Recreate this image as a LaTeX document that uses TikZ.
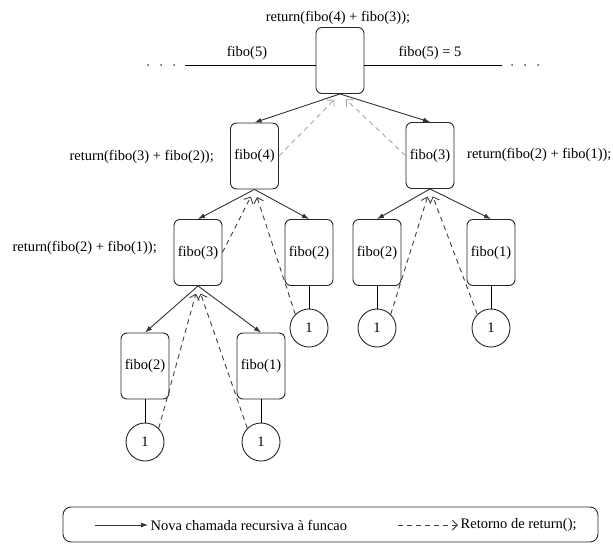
\documentclass[tikz,border=0pt]{standalone}
\usepackage{fontspec}
\setmainfont{Liberation Serif}
\usetikzlibrary{arrows.meta}

\begin{document}
\begin{tikzpicture}[x = 1pt, y = -1pt,
        font = \fontsize{14.5}{17}\selectfont,
        box/.style = {draw = black!85, rounded corners = 6pt, minimum width = 48pt, minimum height = 66pt, inner sep = 1pt, line width = 0.9pt},
        base/.style = {draw = black!85, circle, minimum size = 38pt, inner sep = 0pt, line width = 0.9pt},
        call/.style = {-{Latex[length = 7pt, width = 5pt]}, draw = black!80, line width = 0.9pt},
        ret/.style = {-{Straight Barb[length = 5pt]}, draw = black!75, dash pattern = on 5pt off 4pt, line width = 0.9pt, shorten > = 8pt},
        lbl/.style = {inner sep = 0pt}]
        \useasboundingbox (0, 0) rectangle (613, 546);

        \node [lbl] (retT) at (338, 18) {return(fibo(4) + fibo(3));};
        \node [box] (T) at (340, 60.5) {};
        \node [lbl] (in5) at (247, 53) {fibo(5)};
        \node [lbl] (out5) at (430, 53) {fibo(5) = 5};
        \coordinate (lineL) at (185, 65);
        \coordinate (lineR) at (502, 65);
        \draw [line width = 0.9pt] (lineL) -- (lineL -| T.west);
        \draw [line width = 0.9pt] (lineR) -- (lineR -| T.east);
        \foreach \x in {148, 161, 174, 512, 525, 538}
            \fill [black!70] (\x, 65) circle [radius = 1pt];

        \node [box] (f4) at (254.5, 156) {fibo(4)};
        \node [box] (f3) at (430, 155.5) {fibo(3)};
        \node [lbl, anchor = east] (ret4) at (214, 157) {return(fibo(3) + fibo(2));};
        \node [lbl, anchor = west] (ret3) at (467, 155) {return(fibo(2) + fibo(1));};

        \node [box] (f3a) at (198, 252.5) {fibo(3)};
        \node [box] (f2a) at (309, 252.5) {fibo(2)};
        \node [box] (f2b) at (377, 252.5) {fibo(2)};
        \node [box] (f1b) at (491, 252.5) {fibo(1)};
        \node [lbl, anchor = east] (ret3a) at (157, 248) {return(fibo(2) + fibo(1));};
        \node [base] (c2a) at (309, 328) {1};
        \node [base] (c2b) at (377, 328) {1};
        \node [base] (c1b) at (491, 328) {1};

        \node [box] (f2c) at (145, 366) {fibo(2)};
        \node [box] (f1c) at (261, 366) {fibo(1)};
        \node [base] (c2c) at (145, 442) {1};
        \node [base] (c1c) at (261, 442) {1};

        \draw [call] (T.south) -- (f4.north);
        \draw [call] (T.south) -- (f3.north);
        \draw [call] (f4.south) -- (f3a.north);
        \draw [call] (f4.south) -- (f2a.north);
        \draw [call] (f3.south) -- (f2b.north);
        \draw [call] (f3.south) -- (f1b.north);
        \draw [call] (f3a.south) -- (f2c.north);
        \draw [call] (f3a.south) -- (f1c.north);

        \draw [line width = 0.9pt] (f2a.south) -- (c2a.north);
        \draw [line width = 0.9pt] (f2b.south) -- (c2b.north);
        \draw [line width = 0.9pt] (f1b.south) -- (c1b.north);
        \draw [line width = 0.9pt] (f2c.south) -- (c2c.north);
        \draw [line width = 0.9pt] (f1c.south) -- (c1c.north);

        \draw [ret, draw = gray!70] (f4.east) -- (T.south);
        \draw [ret, draw = gray!70] (f3.west) -- (T.south);
        \draw [ret] (f3a.east) -- (f4.south);
        \draw [ret] (c2a.135) -- (f4.south);
        \draw [ret] (c2b.45) -- (f3.south);
        \draw [ret] (c1b.135) -- (f3.south);
        \draw [ret] (c2c.45) -- (f3a.south);
        \draw [ret] (c1c.135) -- (f3a.south);

        \draw [rounded corners = 8pt, line width = 0.9pt, draw = black!85] (63, 507) rectangle (598, 542);
        \node [lbl, anchor = west, inner sep = 2.5pt] (nova) at (148, 525) {Nova chamada recursiva à funcao};
        \coordinate (novaA) at (95, 525);
        \draw [call] (novaA) -- (nova.west);
        \node [lbl, anchor = west, inner sep = 2.5pt] (reto) at (458, 525) {Retorno de return();};
        \coordinate (retoA) at (398, 525);
        \draw [ret, shorten > = 0pt] (retoA) -- (reto.west);
\end{tikzpicture}
\end{document}
